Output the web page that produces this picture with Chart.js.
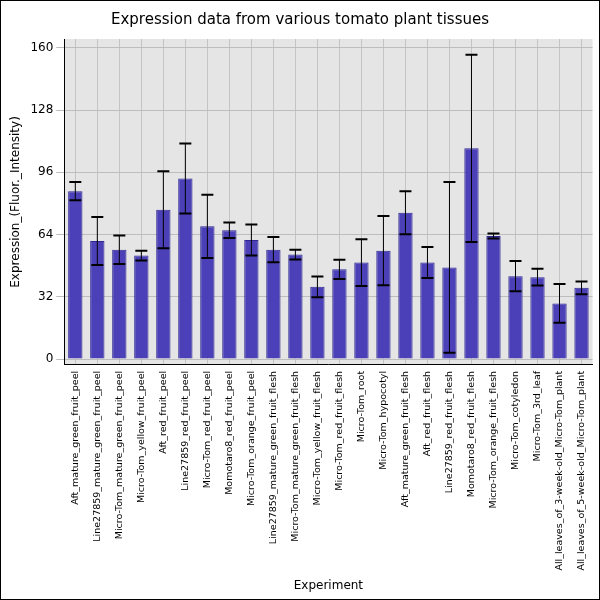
<!DOCTYPE html>
<html>
<head>
<meta charset="utf-8">
<script src="https://cdn.jsdelivr.net/npm/chart.js@4"></script>
<style>
  body { margin: 0; background: #fff; }
  #wrap { width: 598px; height: 598px; border: 1px solid #000; }
</style>
</head>
<body>
<div id="wrap"><canvas id="chart" width="598" height="598"></canvas></div>
<script>
  const categories = [
    'Aft_mature_green_fruit_peel', 'Line27859_mature_green_fruit_peel', 'Micro-Tom_mature_green_fruit_peel',
    'Micro-Tom_yellow_fruit_peel', 'Aft_red_fruit_peel', 'Line27859_red_fruit_peel', 'Micro-Tom_red_fruit_peel',
    'Momotaro8_red_fruit_peel', 'Micro-Tom_orange_fruit_peel', 'Line27859_mature_green_fruit_flesh',
    'Micro-Tom_mature_green_fruit_flesh', 'Micro-Tom_yellow_fruit_flesh', 'Micro-Tom_red_fruit_flesh',
    'Micro-Tom_root', 'Micro-Tom_hypocotyl', 'Aft_mature_green_fruit_flesh', 'Aft_red_fruit_flesh',
    'Line27859_red_fruit_flesh', 'Momotaro8_red_fruit_flesh', 'Micro-Tom_orange_fruit_flesh',
    'Micro-Tom_cotyledon', 'Micro-Tom_3rd_leaf', 'All_leaves_of_3-week-old_Micro-Tom_plant',
    'All_leaves_of_5-week-old_Micro-Tom_plant'
  ];
  const values = [86.3, 60.7, 56.2, 53.2, 76.7, 92.8, 68.2, 66.2, 61.2, 56.2, 53.7, 37.1,
                  46.1, 49.6, 55.7, 75.2, 49.6, 47.1, 108.3, 63.2, 42.6, 42.1, 28.6, 36.6];
  const errors = [4.7, 12.3, 7.3, 2.5, 19.8, 18, 16.3, 4, 8, 6.5, 2.5, 5.3,
                  5, 12, 17.8, 11, 8, 43.9, 48.1, 1.3, 7.8, 4.3, 10, 3.3];
  const yTicks = [0, 32, 64, 96, 128, 160];

  // gray plot background
  const bgPlugin = {
    id: 'bg',
    beforeDraw(chart) {
      const a = chart.chartArea, c = chart.ctx;
      c.save();
      c.fillStyle = '#e5e5e5';
      c.fillRect(a.left, a.top, a.right - a.left, a.bottom - a.top);
      c.restore();
    }
  };

  // error bars with caps
  const errPlugin = {
    id: 'err',
    afterDatasetsDraw(chart) {
      const c = chart.ctx, y = chart.scales.y;
      const meta = chart.getDatasetMeta(0);
      c.save();
      c.strokeStyle = '#000';
      c.lineWidth = 1;
      meta.data.forEach((bar, i) => {
        const top = y.getPixelForValue(values[i] + errors[i]);
        const bot = y.getPixelForValue(values[i] - errors[i]);
        c.beginPath();
        c.moveTo(bar.x, top); c.lineTo(bar.x, bot);
        c.stroke();
        c.lineWidth = 2;
        c.beginPath();
        c.moveTo(bar.x - 6, top); c.lineTo(bar.x + 6, top);
        c.moveTo(bar.x - 6, bot); c.lineTo(bar.x + 6, bot);
        c.stroke();
        c.lineWidth = 1;
      });
      c.restore();
    }
  };

  new Chart(document.getElementById('chart'), {
    type: 'bar',
    data: {
      labels: categories,
      datasets: [{
        data: values,
        backgroundColor: '#4b40b8',
        borderColor: '#2e2890',
        borderWidth: 1,
        categoryPercentage: 1,
        barPercentage: 0.65
      }]
    },
    options: {
      responsive: false,
      animation: false,
      layout: { padding: { left: 4, right: 4, top: 0, bottom: 4 } },
      plugins: {
        legend: { display: false },
        tooltip: { enabled: false },
        title: {
          display: true,
          text: 'Expression data from various tomato plant tissues',
          color: '#000',
          font: { family: 'DejaVu Sans', size: 15, weight: 'normal' },
          padding: { top: 10, bottom: 10 }
        }
      },
      scales: {
        x: {
          grid: { color: '#c4c4c4', offset: false, drawTicks: false },
          border: { color: '#000' },
          ticks: {
            color: '#000', maxRotation: 90, minRotation: 90, autoSkip: false,
            font: { family: 'DejaVu Sans', size: 9.5 }, padding: 6
          },
          title: {
            display: true, text: 'Experiment', color: '#000',
            font: { family: 'DejaVu Sans', size: 12 }, padding: { top: 2, bottom: 2 }
          }
        },
        y: {
          min: -3, max: 164.5,
          afterBuildTicks(axis) { axis.ticks = yTicks.map(v => ({ value: v })); },
          grid: { color: '#bdbdbd' },
          border: { color: '#000' },
          ticks: { color: '#000', font: { family: 'DejaVu Sans', size: 12 } },
          title: {
            display: true, text: 'Expression_(Fluor._Intensity)', color: '#000',
            font: { family: 'DejaVu Sans', size: 12 }
          }
        }
      }
    },
    plugins: [bgPlugin, errPlugin]
  });
</script>
</body>
</html>
